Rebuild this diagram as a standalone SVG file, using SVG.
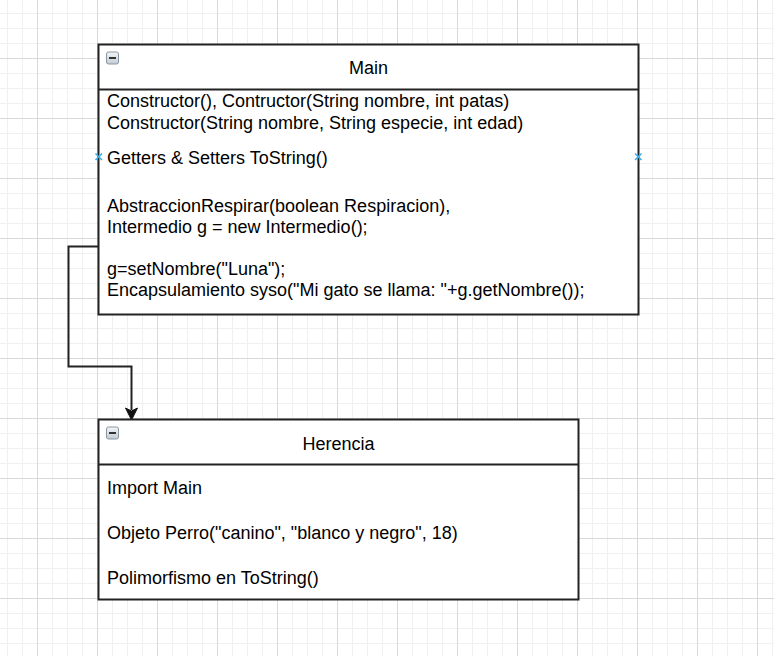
<svg xmlns="http://www.w3.org/2000/svg" width="774" height="656" viewBox="0 0 774 656">
  <style>
    .box { fill: #ffffff; stroke: #222222; stroke-width: 2; }
    .sep { stroke: #222222; stroke-width: 2; fill: none; }
    .title { font-family: "Liberation Sans", Arial, sans-serif; font-size: 18px; fill: #000000; text-anchor: middle; }
    .body { font-family: "Liberation Sans", Arial, sans-serif; font-size: 18px; fill: #000000; }
    .edge { fill: none; stroke: #222222; stroke-width: 2; }
    .pt { stroke: #3fb1ea; stroke-width: 1.6; fill: none; }
  </style>
  <defs>
    <pattern id="minor" x="7" y="13" width="15" height="15" patternUnits="userSpaceOnUse">
      <path d="M0 0.5 H15 M0.5 0 V15" stroke="#f0f0f0" stroke-width="1" fill="none"/>
    </pattern>
    <pattern id="major" x="37" y="-2" width="60" height="60" patternUnits="userSpaceOnUse">
      <path d="M0 0.5 H60 M0.5 0 V60" stroke="#d9d9d9" stroke-width="1" fill="none"/>
    </pattern>
    <linearGradient id="iconGrad" x1="0" y1="0" x2="0" y2="1">
      <stop offset="0" stop-color="#f4f6f8"/>
      <stop offset="1" stop-color="#c3cbd3"/>
    </linearGradient>
    <g id="collapse">
      <rect x="0.5" y="0.5" width="12" height="12" rx="2" fill="url(#iconGrad)" stroke="#8a96a3" stroke-width="1"/>
      <rect x="3" y="5.5" width="7" height="2" fill="#333333"/>
    </g>
  </defs>

  <rect x="0" y="0" width="774" height="656" fill="#ffffff"/>
  <rect x="0" y="0" width="774" height="656" fill="url(#minor)"/>
  <rect x="0" y="0" width="774" height="656" fill="url(#major)"/>

  <g id="connectors">
    <path class="edge" d="M98.5 246.5 H68.5 V366.5 H131.5 V410"/>
    <polygon points="131.5,420 125.5,408 131.5,411 137.5,408" fill="#111111" stroke="#111111" stroke-width="1"/>
  </g>

  <g id="main">
    <rect class="box" x="98.5" y="44.5" width="540" height="270"/>
    <line class="sep" x1="98.5" y1="89.5" x2="638.5" y2="89.5"/>
    <use href="#collapse" x="106" y="51.5"/>
    <text class="title" x="368.5" y="74">Main</text>
    <text class="body" x="107" y="107">Constructor(), Contructor(String nombre, int patas)</text>
    <text class="body" x="107" y="129">Constructor(String nombre, String especie, int edad)</text>
    <text class="body" x="107" y="164">Getters &amp; Setters ToString()</text>
    <text class="body" x="107" y="212">AbstraccionRespirar(boolean Respiracion),</text>
    <text class="body" x="107" y="233">Intermedio g = new Intermedio();</text>
    <text class="body" x="107" y="275">g=setNombre("Luna");</text>
    <text class="body" x="107" y="296">Encapsulamiento syso("Mi gato se llama: "+g.getNombre());</text>
    <path class="pt" d="M95.5 153.5 L102 160 M102 153.5 L95.5 160"/>
    <path class="pt" d="M635 153.5 L641.5 160 M641.5 153.5 L635 160"/>
  </g>

  <g id="herencia">
    <rect class="box" x="98.5" y="419.5" width="480" height="180"/>
    <line class="sep" x1="98.5" y1="464.5" x2="578.5" y2="464.5"/>
    <use href="#collapse" x="106" y="426.5"/>
    <text class="title" x="338.5" y="449.5">Herencia</text>
    <text class="body" x="107" y="494">Import Main</text>
    <text class="body" x="107" y="539">Objeto Perro("canino", "blanco y negro", 18)</text>
    <text class="body" x="107" y="584">Polimorfismo en ToString()</text>
  </g>
</svg>
